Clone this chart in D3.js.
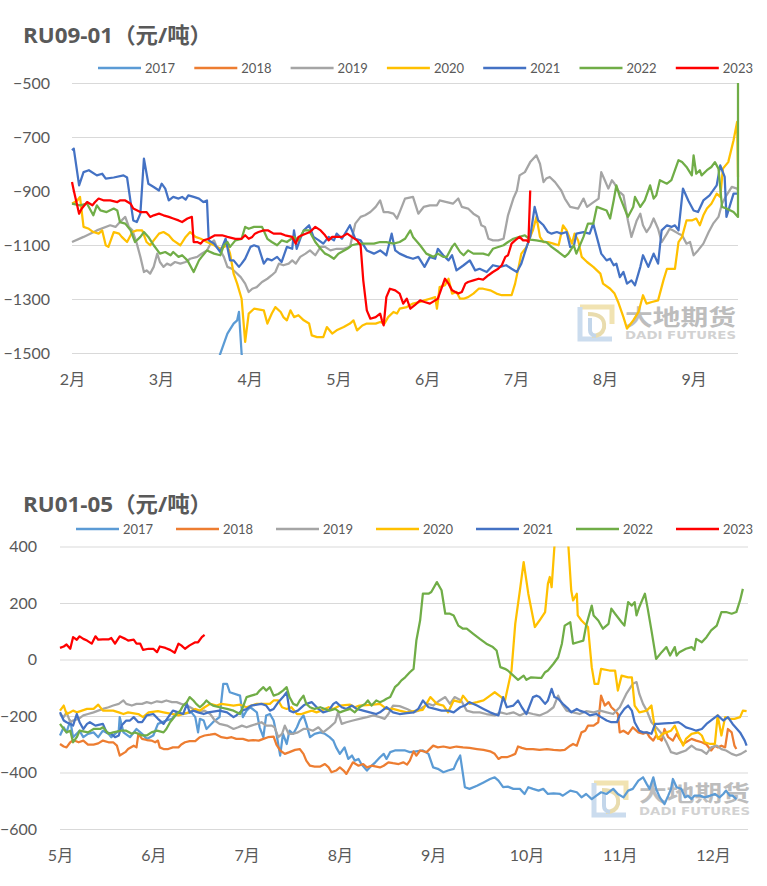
<!DOCTYPE html>
<html>
<head>
<meta charset="utf-8">
<script src="https://cdn.jsdelivr.net/npm/d3@7/dist/d3.min.js"></script>
<style>
body { margin: 0; background: #fff; }
svg { display: block; }
</style>
</head>
<body>
<div id="chart"></div>
<script>
// legend / series names
var years = ["2017", "2018", "2019", "2020", "2021", "2022", "2023"];
var lineColors = ["#5B9BD5", "#ED7D31", "#A5A5A5", "#FFC000", "#4472C4", "#70AD47", "#FF0000"];

// axis ticks (x in months, 2.5 = mid Feb)
var topMonthTicks = [2, 3, 4, 5, 6, 7, 8, 9];
var topValueTicks = [-500, -700, -900, -1100, -1300, -1500];
var bottomMonthTicks = [5, 6, 7, 8, 9, 10, 11, 12];
var bottomValueTicks = [400, 200, 0, -200, -400, -600];

// ---- RU09-01 spread, [month, 元/吨] ----
var top2017 = [[3.60,-1580],[3.67,-1502],[3.75,-1428],[3.82,-1391],[3.86,-1379],[3.88,-1348],[3.91,-1502],[3.95,-1600]];
var top2018 = [];
var top2019 = [[2.00,-1089],[2.13,-1070],[2.28,-1046],[2.43,-1027],[2.49,-1033],[2.54,-1015],[2.60,-996],[2.64,-1033],[2.68,-1046],[2.73,-1095],[2.77,-1144],[2.81,-1200],[2.84,-1194],[2.88,-1206],[2.92,-1181],[2.96,-1132],[2.99,-1163],[3.03,-1181],[3.07,-1169],[3.11,-1175],[3.16,-1163],[3.22,-1169],[3.28,-1163],[3.33,-1151],[3.41,-1144],[3.46,-1132],[3.52,-1120],[3.56,-1095],[3.60,-1083],[3.63,-1107],[3.67,-1120],[3.71,-1144],[3.75,-1181],[3.80,-1188],[3.84,-1200],[3.90,-1219],[3.95,-1243],[3.99,-1274],[4.03,-1262],[4.08,-1256],[4.14,-1237],[4.20,-1225],[4.25,-1212],[4.29,-1200],[4.33,-1169],[4.38,-1175],[4.44,-1169],[4.48,-1157],[4.52,-1169],[4.57,-1144],[4.63,-1132],[4.68,-1120],[4.74,-1138],[4.80,-1107],[4.85,-1107],[4.91,-1120],[4.98,-1114],[5.06,-1114],[5.13,-1107],[5.19,-1021],[5.25,-996],[5.30,-990],[5.36,-978],[5.42,-959],[5.47,-935],[5.51,-978],[5.56,-978],[5.62,-984],[5.66,-1002],[5.69,-978],[5.75,-928],[5.84,-922],[5.90,-984],[5.96,-959],[6.03,-953],[6.11,-953],[6.14,-935],[6.22,-941],[6.29,-947],[6.35,-928],[6.39,-959],[6.46,-965],[6.52,-984],[6.58,-996],[6.61,-1027],[6.65,-1033],[6.69,-1077],[6.74,-1083],[6.80,-1083],[6.86,-1077],[6.91,-990],[6.97,-928],[7.01,-898],[7.04,-842],[7.10,-830],[7.16,-793],[7.23,-768],[7.27,-799],[7.31,-867],[7.34,-854],[7.38,-848],[7.44,-867],[7.51,-898],[7.55,-928],[7.61,-959],[7.70,-965],[7.76,-928],[7.80,-959],[7.85,-947],[7.93,-928],[7.96,-830],[8.00,-860],[8.04,-891],[8.08,-860],[8.11,-873],[8.15,-898],[8.21,-916],[8.26,-1009],[8.30,-1070],[8.36,-1009],[8.40,-984],[8.43,-1027],[8.47,-1052],[8.51,-1033],[8.55,-1002],[8.60,-1040],[8.64,-1089],[8.70,-1058],[8.73,-1040],[8.77,-1046],[8.83,-1058],[8.87,-1064],[8.92,-1095],[8.96,-1089],[9.00,-1138],[9.05,-1120],[9.11,-1095],[9.17,-1052],[9.22,-1021],[9.28,-996],[9.32,-947],[9.37,-916],[9.43,-885],[9.49,-891],[9.50,-898]];
var top2020 = [[2.00,-947],[2.06,-935],[2.09,-922],[2.13,-1033],[2.19,-1040],[2.24,-1052],[2.30,-1058],[2.34,-1046],[2.38,-1101],[2.41,-1107],[2.47,-1052],[2.53,-1058],[2.56,-1070],[2.62,-1089],[2.68,-1052],[2.73,-1046],[2.79,-1046],[2.84,-1089],[2.88,-1101],[2.92,-1083],[2.98,-1058],[3.03,-1052],[3.09,-1064],[3.14,-1083],[3.22,-1101],[3.28,-1070],[3.33,-1052],[3.39,-1070],[3.45,-1077],[3.52,-1089],[3.60,-1101],[3.67,-1114],[3.75,-1101],[3.78,-1132],[3.82,-1206],[3.86,-1243],[3.91,-1299],[3.95,-1459],[3.99,-1354],[4.05,-1336],[4.16,-1342],[4.20,-1391],[4.25,-1354],[4.29,-1330],[4.35,-1348],[4.38,-1367],[4.42,-1379],[4.46,-1342],[4.50,-1367],[4.55,-1360],[4.61,-1379],[4.67,-1391],[4.70,-1435],[4.76,-1441],[4.83,-1441],[4.87,-1404],[4.93,-1428],[4.98,-1416],[5.06,-1404],[5.13,-1391],[5.17,-1379],[5.21,-1416],[5.27,-1398],[5.32,-1391],[5.42,-1391],[5.47,-1385],[5.52,-1391],[5.56,-1367],[5.62,-1348],[5.66,-1354],[5.69,-1336],[5.77,-1330],[5.84,-1317],[5.92,-1311],[5.97,-1305],[6.03,-1299],[6.09,-1293],[6.11,-1336],[6.14,-1256],[6.20,-1249],[6.24,-1225],[6.28,-1280],[6.33,-1274],[6.37,-1299],[6.41,-1299],[6.46,-1293],[6.52,-1280],[6.58,-1262],[6.63,-1262],[6.71,-1268],[6.78,-1280],[6.84,-1286],[6.95,-1286],[6.99,-1243],[7.03,-1181],[7.06,-1132],[7.12,-1107],[7.16,-1070],[7.19,-1046],[7.23,-996],[7.27,-1070],[7.31,-1089],[7.36,-1089],[7.42,-1095],[7.48,-1101],[7.53,-1027],[7.57,-1046],[7.63,-1095],[7.66,-1058],[7.70,-1083],[7.74,-1144],[7.80,-1163],[7.87,-1181],[7.95,-1206],[7.98,-1243],[8.06,-1262],[8.11,-1280],[8.15,-1311],[8.21,-1367],[8.25,-1410],[8.32,-1379],[8.38,-1348],[8.43,-1286],[8.47,-1317],[8.53,-1311],[8.60,-1305],[8.66,-1231],[8.70,-1188],[8.79,-1188],[8.83,-1089],[8.87,-1070],[8.92,-1009],[8.98,-1009],[9.03,-1002],[9.07,-1027],[9.11,-990],[9.15,-965],[9.20,-947],[9.26,-910],[9.30,-922],[9.33,-817],[9.39,-793],[9.45,-712],[9.49,-644],[9.50,-848]];
var top2021 = [[2.00,-749],[2.02,-743],[2.08,-879],[2.13,-830],[2.19,-823],[2.28,-842],[2.34,-836],[2.38,-854],[2.47,-850],[2.58,-842],[2.62,-850],[2.69,-1009],[2.73,-1015],[2.77,-984],[2.81,-780],[2.86,-873],[2.92,-885],[2.98,-898],[3.01,-873],[3.05,-891],[3.09,-935],[3.14,-922],[3.20,-928],[3.24,-922],[3.28,-932],[3.31,-916],[3.37,-922],[3.43,-928],[3.48,-941],[3.52,-935],[3.54,-1083],[3.60,-1095],[3.67,-1126],[3.73,-1077],[3.78,-1157],[3.82,-1157],[3.88,-1181],[3.91,-1169],[3.95,-1151],[4.01,-1107],[4.05,-1101],[4.10,-1107],[4.16,-1169],[4.20,-1151],[4.25,-1157],[4.31,-1144],[4.36,-1163],[4.42,-1107],[4.48,-1114],[4.50,-1046],[4.53,-1114],[4.57,-1077],[4.61,-1046],[4.67,-1027],[4.72,-1070],[4.78,-1083],[4.83,-1095],[4.89,-1070],[4.95,-1083],[4.98,-1058],[5.04,-1077],[5.13,-1027],[5.19,-1077],[5.25,-1083],[5.32,-1120],[5.40,-1132],[5.47,-1120],[5.54,-1138],[5.60,-1058],[5.64,-1120],[5.69,-1132],[5.77,-1144],[5.84,-1151],[5.90,-1144],[5.97,-1181],[6.03,-1144],[6.09,-1151],[6.12,-1114],[6.18,-1138],[6.24,-1157],[6.28,-1138],[6.33,-1194],[6.41,-1175],[6.48,-1157],[6.54,-1194],[6.59,-1188],[6.67,-1200],[6.74,-1175],[6.82,-1181],[6.89,-1175],[6.95,-1188],[7.01,-1200],[7.06,-1169],[7.12,-1107],[7.16,-1070],[7.21,-959],[7.25,-1009],[7.31,-1027],[7.36,-1052],[7.40,-1058],[7.46,-1052],[7.51,-1058],[7.57,-1052],[7.61,-1107],[7.65,-1107],[7.68,-1058],[7.76,-1052],[7.83,-1058],[7.87,-1021],[7.93,-1095],[7.96,-1132],[8.02,-1157],[8.06,-1151],[8.10,-1175],[8.13,-1169],[8.17,-1219],[8.21,-1200],[8.25,-1243],[8.30,-1231],[8.34,-1249],[8.40,-1181],[8.43,-1138],[8.49,-1181],[8.55,-1132],[8.60,-1169],[8.64,-1046],[8.70,-1027],[8.75,-1033],[8.79,-1027],[8.83,-1046],[8.88,-891],[8.94,-935],[9.00,-972],[9.05,-978],[9.11,-935],[9.18,-916],[9.26,-879],[9.30,-805],[9.35,-848],[9.37,-996],[9.45,-910],[9.50,-910]];
var top2022 = [[2.00,-947],[2.09,-953],[2.17,-947],[2.24,-990],[2.28,-953],[2.32,-972],[2.39,-978],[2.47,-965],[2.51,-972],[2.54,-1015],[2.60,-1021],[2.66,-1046],[2.71,-1089],[2.77,-1070],[2.81,-1052],[2.86,-1070],[2.92,-1101],[2.99,-1132],[3.05,-1126],[3.11,-1138],[3.14,-1126],[3.20,-1144],[3.24,-1138],[3.30,-1157],[3.37,-1200],[3.43,-1157],[3.46,-1144],[3.52,-1120],[3.60,-1132],[3.67,-1138],[3.71,-1101],[3.75,-1089],[3.78,-1107],[3.84,-1083],[3.91,-1077],[3.95,-1033],[3.99,-1040],[4.05,-1033],[4.14,-1033],[4.20,-1077],[4.25,-1089],[4.31,-1101],[4.36,-1083],[4.42,-1089],[4.50,-1070],[4.55,-1083],[4.61,-1046],[4.67,-1046],[4.74,-1089],[4.80,-1114],[4.85,-1132],[4.89,-1138],[4.95,-1151],[5.00,-1132],[5.10,-1114],[5.15,-1101],[5.23,-1095],[5.32,-1095],[5.40,-1095],[5.47,-1089],[5.54,-1089],[5.62,-1095],[5.69,-1089],[5.75,-1077],[5.81,-1046],[5.84,-1070],[5.92,-1101],[5.99,-1132],[6.07,-1144],[6.12,-1132],[6.18,-1144],[6.22,-1144],[6.28,-1107],[6.31,-1095],[6.37,-1126],[6.41,-1138],[6.46,-1120],[6.52,-1132],[6.63,-1132],[6.69,-1138],[6.74,-1114],[6.86,-1101],[6.91,-1089],[6.97,-1077],[7.04,-1070],[7.10,-1064],[7.16,-1080],[7.23,-1083],[7.34,-1089],[7.40,-1107],[7.48,-1126],[7.55,-1144],[7.59,-1132],[7.65,-1101],[7.68,-1132],[7.76,-1070],[7.81,-1021],[7.87,-1021],[7.91,-959],[8.02,-972],[8.06,-1002],[8.10,-935],[8.13,-879],[8.17,-922],[8.23,-972],[8.26,-996],[8.32,-959],[8.34,-922],[8.40,-959],[8.45,-935],[8.51,-879],[8.55,-928],[8.58,-916],[8.62,-860],[8.70,-873],[8.75,-860],[8.79,-823],[8.83,-786],[8.87,-793],[8.92,-811],[8.98,-842],[9.00,-768],[9.03,-836],[9.07,-823],[9.09,-842],[9.15,-823],[9.20,-811],[9.24,-793],[9.28,-817],[9.32,-959],[9.37,-965],[9.45,-978],[9.50,-996],[9.50,-500]];
var top2023 = [[2.00,-867],[2.02,-898],[2.08,-984],[2.11,-965],[2.17,-941],[2.23,-953],[2.26,-941],[2.30,-928],[2.36,-935],[2.43,-935],[2.51,-941],[2.54,-935],[2.60,-935],[2.66,-947],[2.69,-965],[2.77,-978],[2.84,-978],[2.88,-996],[2.92,-990],[2.98,-984],[3.03,-990],[3.09,-996],[3.14,-1002],[3.20,-1009],[3.24,-1015],[3.30,-1002],[3.35,-996],[3.37,-1089],[3.41,-1089],[3.45,-1095],[3.48,-1083],[3.54,-1077],[3.61,-1064],[3.69,-1064],[3.75,-1070],[3.84,-1077],[3.91,-1077],[3.95,-1064],[3.99,-1077],[4.03,-1070],[4.06,-1058],[4.10,-1052],[4.16,-1046],[4.21,-1046],[4.27,-1058],[4.35,-1058],[4.40,-1064],[4.48,-1070],[4.52,-1095],[4.55,-1070],[4.59,-1064],[4.68,-1052],[4.74,-1033],[4.80,-1046],[4.85,-1064],[4.89,-1083],[4.93,-1070],[5.04,-1070],[5.10,-1058],[5.15,-1070],[5.21,-1083],[5.25,-1101],[5.28,-1231],[5.32,-1342],[5.36,-1373],[5.42,-1367],[5.47,-1354],[5.49,-1379],[5.51,-1398],[5.54,-1293],[5.58,-1262],[5.64,-1268],[5.69,-1280],[5.73,-1317],[5.77,-1299],[5.81,-1336],[5.86,-1323],[5.92,-1305],[5.97,-1311],[6.03,-1317],[6.09,-1305],[6.12,-1299],[6.16,-1262],[6.20,-1225],[6.24,-1243],[6.28,-1268],[6.35,-1280],[6.39,-1274],[6.43,-1243],[6.46,-1237],[6.52,-1231],[6.58,-1225],[6.63,-1228],[6.69,-1212],[6.74,-1200],[6.80,-1188],[6.84,-1175],[6.88,-1144],[6.91,-1138],[6.95,-1095],[6.99,-1083],[7.04,-1070],[7.08,-1083],[7.12,-1083],[7.14,-1089],[7.16,-898]];

// ---- RU01-05 spread, [month, 元/吨] ----
var bottom2017 = [[5.00,-269],[5.04,-240],[5.07,-258],[5.11,-216],[5.14,-275],[5.21,-252],[5.25,-275],[5.30,-263],[5.36,-258],[5.41,-275],[5.46,-252],[5.52,-263],[5.55,-275],[5.59,-263],[5.63,-252],[5.64,-204],[5.68,-258],[5.75,-275],[5.82,-246],[5.88,-263],[5.93,-281],[6.00,-269],[6.05,-228],[6.14,-216],[6.20,-210],[6.25,-187],[6.30,-193],[6.41,-187],[6.45,-204],[6.48,-258],[6.50,-210],[6.54,-216],[6.57,-246],[6.64,-222],[6.71,-204],[6.75,-86],[6.79,-86],[6.82,-116],[6.93,-128],[6.96,-204],[7.00,-181],[7.04,-169],[7.11,-187],[7.14,-240],[7.18,-275],[7.21,-198],[7.25,-193],[7.29,-216],[7.32,-263],[7.36,-340],[7.39,-263],[7.43,-299],[7.46,-252],[7.50,-263],[7.54,-240],[7.57,-216],[7.61,-198],[7.64,-228],[7.68,-275],[7.73,-263],[7.79,-258],[7.84,-263],[7.89,-275],[7.93,-287],[7.96,-311],[8.00,-334],[8.05,-311],[8.09,-352],[8.13,-340],[8.16,-358],[8.20,-352],[8.23,-370],[8.29,-393],[8.32,-382],[8.38,-364],[8.43,-346],[8.47,-334],[8.50,-352],[8.54,-328],[8.59,-322],[8.70,-322],[8.75,-328],[8.82,-325],[8.89,-322],[8.95,-334],[9.00,-382],[9.05,-387],[9.11,-399],[9.16,-393],[9.22,-387],[9.25,-364],[9.29,-340],[9.34,-452],[9.39,-458],[9.47,-447],[9.54,-435],[9.61,-423],[9.66,-417],[9.70,-429],[9.75,-452],[9.80,-450],[9.86,-458],[9.93,-458],[9.98,-476],[10.02,-452],[10.07,-458],[10.13,-464],[10.18,-458],[10.23,-476],[10.29,-474],[10.36,-476],[10.39,-482],[10.47,-464],[10.54,-470],[10.59,-488],[10.64,-476],[10.70,-494],[10.75,-482],[10.80,-470],[10.86,-476],[10.93,-458],[10.98,-476],[11.04,-488],[11.09,-464],[11.14,-458],[11.20,-429],[11.25,-417],[11.29,-441],[11.32,-458],[11.36,-417],[11.39,-458],[11.43,-488],[11.48,-512],[11.52,-482],[11.55,-458],[11.57,-423],[11.61,-452],[11.66,-458],[11.70,-488],[11.73,-482],[11.77,-494],[11.80,-482],[11.86,-482],[11.91,-488],[11.97,-482],[12.02,-476],[12.07,-488],[12.11,-476],[12.14,-464],[12.18,-482],[12.21,-482],[12.25,-494]];
var bottom2018 = [[5.00,-299],[5.04,-308],[5.07,-311],[5.11,-293],[5.14,-285],[5.20,-293],[5.25,-287],[5.30,-301],[5.36,-301],[5.41,-297],[5.46,-287],[5.52,-293],[5.57,-293],[5.61,-305],[5.64,-340],[5.70,-328],[5.73,-317],[5.79,-305],[5.82,-311],[5.84,-263],[5.88,-281],[5.93,-285],[5.98,-287],[6.02,-293],[6.05,-287],[6.07,-311],[6.11,-317],[6.16,-317],[6.21,-311],[6.27,-311],[6.30,-301],[6.34,-293],[6.39,-289],[6.45,-289],[6.50,-275],[6.55,-269],[6.61,-266],[6.66,-263],[6.73,-275],[6.79,-278],[6.84,-275],[6.89,-281],[6.96,-281],[7.02,-287],[7.07,-285],[7.13,-287],[7.18,-281],[7.23,-275],[7.29,-273],[7.32,-301],[7.36,-322],[7.41,-334],[7.46,-328],[7.52,-320],[7.57,-317],[7.61,-334],[7.64,-358],[7.68,-376],[7.73,-379],[7.79,-379],[7.84,-370],[7.88,-382],[7.91,-399],[7.96,-393],[8.00,-382],[8.04,-393],[8.07,-405],[8.11,-382],[8.14,-364],[8.20,-376],[8.25,-370],[8.29,-382],[8.34,-376],[8.43,-382],[8.47,-376],[8.52,-364],[8.57,-367],[8.63,-370],[8.68,-364],[8.72,-372],[8.75,-358],[8.79,-325],[8.82,-340],[8.86,-322],[8.93,-328],[9.00,-305],[9.05,-311],[9.11,-308],[9.18,-313],[9.25,-308],[9.32,-311],[9.39,-313],[9.47,-317],[9.54,-320],[9.61,-325],[9.66,-334],[9.70,-352],[9.73,-346],[9.79,-346],[9.84,-340],[9.88,-334],[9.91,-308],[9.95,-313],[10.00,-317],[10.07,-317],[10.14,-320],[10.22,-317],[10.29,-320],[10.36,-322],[10.41,-320],[10.47,-305],[10.50,-299],[10.54,-305],[10.59,-258],[10.63,-252],[10.66,-234],[10.72,-234],[10.77,-222],[10.80,-128],[10.84,-163],[10.88,-151],[10.91,-169],[10.95,-181],[10.98,-193],[11.00,-258],[11.04,-252],[11.09,-263],[11.14,-240],[11.20,-258],[11.25,-263],[11.29,-258],[11.32,-275],[11.36,-287],[11.39,-269],[11.45,-287],[11.48,-246],[11.52,-275],[11.57,-287],[11.61,-263],[11.64,-281],[11.68,-299],[11.71,-293],[11.77,-281],[11.82,-287],[11.88,-293],[11.93,-301],[11.98,-322],[12.02,-305],[12.05,-311],[12.09,-305],[12.13,-311],[12.16,-246],[12.20,-258],[12.23,-305],[12.25,-317]];
var bottom2019 = [[5.00,-193],[5.04,-204],[5.07,-187],[5.11,-222],[5.14,-216],[5.20,-210],[5.25,-198],[5.30,-193],[5.36,-187],[5.41,-181],[5.46,-175],[5.52,-169],[5.57,-163],[5.63,-157],[5.68,-145],[5.71,-157],[5.77,-163],[5.82,-157],[5.88,-157],[5.93,-151],[5.98,-155],[6.04,-148],[6.09,-151],[6.14,-145],[6.20,-151],[6.25,-151],[6.30,-157],[6.36,-163],[6.43,-175],[6.50,-187],[6.55,-181],[6.61,-193],[6.66,-216],[6.71,-228],[6.79,-234],[6.86,-246],[6.91,-240],[6.95,-234],[7.00,-240],[7.05,-234],[7.11,-228],[7.16,-222],[7.21,-234],[7.27,-234],[7.30,-240],[7.34,-275],[7.38,-263],[7.41,-234],[7.45,-263],[7.50,-263],[7.55,-258],[7.61,-246],[7.66,-246],[7.71,-252],[7.77,-240],[7.82,-258],[7.89,-240],[7.95,-222],[7.98,-187],[8.02,-228],[8.07,-222],[8.14,-216],[8.21,-210],[8.29,-204],[8.36,-198],[8.43,-204],[8.48,-210],[8.52,-193],[8.57,-163],[8.64,-165],[8.72,-175],[8.79,-187],[8.84,-181],[8.89,-169],[8.95,-157],[9.00,-163],[9.07,-145],[9.13,-133],[9.18,-157],[9.23,-133],[9.30,-145],[9.36,-181],[9.43,-187],[9.50,-187],[9.57,-193],[9.66,-198],[9.72,-187],[9.79,-193],[9.86,-187],[9.93,-198],[10.00,-187],[10.07,-193],[10.14,-198],[10.22,-187],[10.29,-169],[10.34,-128],[10.38,-157],[10.43,-181],[10.50,-187],[10.57,-193],[10.64,-183],[10.72,-187],[10.79,-181],[10.86,-187],[10.93,-193],[11.00,-169],[11.07,-122],[11.14,-86],[11.18,-80],[11.21,-122],[11.25,-157],[11.29,-181],[11.34,-222],[11.39,-240],[11.45,-263],[11.50,-293],[11.55,-328],[11.61,-334],[11.66,-328],[11.71,-322],[11.77,-305],[11.82,-317],[11.88,-322],[11.93,-334],[11.98,-311],[12.04,-305],[12.09,-317],[12.14,-322],[12.20,-334],[12.25,-340],[12.30,-334],[12.36,-322]];
var bottom2020 = [[5.00,-181],[5.04,-163],[5.07,-193],[5.11,-187],[5.14,-181],[5.18,-187],[5.29,-175],[5.36,-175],[5.41,-160],[5.46,-181],[5.57,-181],[5.63,-187],[5.68,-193],[5.73,-187],[5.84,-193],[5.89,-204],[5.95,-187],[6.05,-183],[6.11,-187],[6.21,-193],[6.27,-198],[6.32,-193],[6.38,-187],[6.45,-175],[6.50,-181],[6.55,-169],[6.61,-157],[6.68,-163],[6.73,-157],[6.86,-163],[6.93,-160],[7.00,-169],[7.05,-163],[7.11,-157],[7.25,-157],[7.29,-145],[7.34,-145],[7.38,-169],[7.43,-175],[7.48,-169],[7.54,-193],[7.59,-193],[7.64,-187],[7.70,-181],[7.75,-187],[7.80,-181],[7.88,-169],[7.93,-175],[8.00,-163],[8.11,-160],[8.16,-169],[8.21,-163],[8.36,-160],[8.43,-157],[8.50,-175],[8.57,-175],[8.64,-181],[8.72,-187],[8.79,-183],[8.89,-178],[8.97,-133],[9.04,-157],[9.11,-163],[9.16,-187],[9.22,-145],[9.29,-151],[9.32,-128],[9.39,-157],[9.47,-151],[9.54,-145],[9.61,-128],[9.66,-116],[9.73,-133],[9.77,-145],[9.84,-39],[9.88,126],[9.93,245],[9.97,345],[10.02,233],[10.09,115],[10.14,138],[10.20,168],[10.23,268],[10.25,292],[10.27,256],[10.30,400],[10.34,518],[10.38,541],[10.41,494],[10.45,400],[10.48,245],[10.50,209],[10.54,233],[10.55,156],[10.59,138],[10.66,115],[10.70,-27],[10.73,-86],[10.77,-86],[10.80,-33],[10.89,-39],[10.95,-39],[10.98,-110],[11.02,-57],[11.09,-63],[11.13,-63],[11.16,-163],[11.21,-187],[11.29,-181],[11.34,-163],[11.38,-252],[11.41,-281],[11.46,-263],[11.50,-258],[11.55,-252],[11.59,-234],[11.64,-275],[11.68,-305],[11.71,-281],[11.77,-263],[11.84,-258],[11.88,-269],[11.91,-293],[11.97,-299],[12.02,-299],[12.05,-198],[12.09,-269],[12.13,-204],[12.18,-210],[12.23,-210],[12.29,-204],[12.32,-181],[12.36,-183]];
var bottom2021 = [[5.00,-187],[5.04,-216],[5.07,-222],[5.11,-228],[5.14,-234],[5.18,-193],[5.21,-222],[5.25,-246],[5.29,-228],[5.32,-222],[5.38,-234],[5.46,-228],[5.50,-258],[5.55,-263],[5.59,-275],[5.63,-269],[5.66,-234],[5.71,-216],[5.75,-216],[5.79,-204],[5.84,-222],[5.88,-222],[5.93,-198],[6.00,-193],[6.05,-210],[6.11,-228],[6.16,-204],[6.21,-181],[6.27,-187],[6.32,-193],[6.36,-157],[6.39,-187],[6.43,-181],[6.48,-187],[6.54,-193],[6.59,-187],[6.71,-181],[6.79,-187],[6.86,-204],[6.89,-198],[6.95,-181],[7.00,-175],[7.05,-163],[7.16,-157],[7.21,-163],[7.25,-181],[7.29,-175],[7.34,-151],[7.39,-133],[7.43,-116],[7.46,-181],[7.50,-187],[7.55,-181],[7.61,-163],[7.64,-157],[7.70,-151],[7.77,-175],[7.82,-187],[7.88,-181],[7.93,-157],[7.96,-151],[8.02,-169],[8.07,-175],[8.13,-163],[8.18,-175],[8.25,-181],[8.32,-187],[8.39,-193],[8.43,-187],[8.50,-169],[8.57,-187],[8.64,-193],[8.72,-190],[8.79,-187],[8.84,-175],[8.89,-145],[8.95,-169],[9.02,-175],[9.09,-181],[9.16,-181],[9.22,-187],[9.29,-169],[9.34,-163],[9.39,-151],[9.47,-163],[9.54,-175],[9.61,-187],[9.70,-198],[9.75,-133],[9.79,-169],[9.86,-163],[9.91,-145],[9.95,-169],[10.00,-193],[10.07,-133],[10.11,-128],[10.14,-133],[10.20,-157],[10.23,-145],[10.27,-104],[10.30,-133],[10.34,-139],[10.39,-157],[10.45,-175],[10.48,-187],[10.54,-175],[10.57,-181],[10.63,-187],[10.68,-198],[10.75,-193],[10.80,-204],[10.86,-216],[10.91,-222],[10.97,-222],[11.00,-198],[11.05,-175],[11.09,-163],[11.13,-181],[11.16,-222],[11.21,-252],[11.25,-258],[11.29,-258],[11.34,-263],[11.38,-228],[11.41,-228],[11.48,-226],[11.57,-224],[11.63,-222],[11.66,-228],[11.71,-240],[11.77,-246],[11.82,-252],[11.88,-246],[11.93,-228],[12.00,-210],[12.05,-198],[12.11,-216],[12.16,-204],[12.21,-228],[12.29,-258],[12.34,-287],[12.36,-305]];
var bottom2022 = [[5.00,-228],[5.04,-246],[5.07,-258],[5.11,-252],[5.14,-293],[5.18,-275],[5.21,-252],[5.30,-258],[5.36,-246],[5.43,-246],[5.46,-240],[5.52,-263],[5.57,-258],[5.66,-252],[5.71,-252],[5.77,-263],[5.80,-258],[5.84,-263],[5.88,-269],[5.93,-269],[5.98,-258],[6.04,-252],[6.11,-258],[6.14,-246],[6.18,-222],[6.21,-210],[6.25,-193],[6.29,-181],[6.32,-163],[6.36,-151],[6.39,-133],[6.43,-145],[6.46,-157],[6.50,-169],[6.54,-157],[6.57,-145],[6.61,-157],[6.64,-163],[6.71,-169],[6.79,-175],[6.86,-181],[6.93,-193],[6.96,-169],[7.00,-133],[7.05,-128],[7.11,-122],[7.14,-110],[7.18,-98],[7.21,-110],[7.25,-98],[7.29,-128],[7.34,-122],[7.39,-110],[7.43,-98],[7.46,-133],[7.50,-157],[7.54,-163],[7.57,-145],[7.61,-128],[7.64,-157],[7.68,-169],[7.73,-175],[7.79,-169],[7.84,-175],[7.89,-181],[7.95,-175],[8.00,-187],[8.05,-181],[8.11,-175],[8.16,-187],[8.21,-169],[8.27,-157],[8.30,-145],[8.34,-163],[8.39,-145],[8.43,-151],[8.47,-145],[8.50,-139],[8.54,-133],[8.59,-98],[8.63,-86],[8.66,-74],[8.70,-63],[8.75,-45],[8.79,-33],[8.82,67],[8.86,138],[8.89,233],[8.95,233],[8.98,239],[9.04,274],[9.09,245],[9.13,162],[9.18,162],[9.22,156],[9.27,120],[9.32,109],[9.36,109],[9.43,91],[9.50,73],[9.57,56],[9.64,44],[9.68,32],[9.72,-27],[9.77,-33],[9.80,-39],[9.86,-57],[9.91,-72],[9.97,-57],[10.00,-72],[10.05,-63],[10.13,-65],[10.16,-65],[10.20,-45],[10.23,-39],[10.29,-15],[10.34,8],[10.38,56],[10.41,120],[10.47,132],[10.50,56],[10.55,61],[10.61,67],[10.64,120],[10.70,191],[10.72,156],[10.77,138],[10.82,109],[10.88,126],[10.91,180],[10.95,162],[11.02,132],[11.05,120],[11.09,203],[11.13,191],[11.16,203],[11.18,156],[11.21,186],[11.27,233],[11.30,180],[11.34,103],[11.39,2],[11.45,26],[11.50,44],[11.54,14],[11.59,44],[11.61,14],[11.64,26],[11.71,38],[11.77,44],[11.80,34],[11.82,73],[11.88,61],[11.93,79],[11.98,103],[12.04,120],[12.09,168],[12.14,168],[12.20,162],[12.25,168],[12.29,209],[12.32,250]];
var bottom2023 = [[5.00,41],[5.04,46],[5.07,53],[5.11,38],[5.14,79],[5.18,70],[5.21,82],[5.25,73],[5.29,67],[5.34,56],[5.38,82],[5.41,70],[5.46,71],[5.52,71],[5.55,76],[5.59,56],[5.64,82],[5.70,73],[5.73,67],[5.79,70],[5.82,56],[5.86,56],[5.89,34],[5.95,38],[6.00,38],[6.04,26],[6.07,46],[6.13,41],[6.18,34],[6.23,24],[6.27,56],[6.30,50],[6.34,38],[6.39,50],[6.45,61],[6.48,61],[6.52,79],[6.55,87]];

var topSeries = [top2017, top2018, top2019, top2020, top2021, top2022, top2023];
var bottomSeries = [bottom2017, bottom2018, bottom2019, bottom2020, bottom2021, bottom2022, bottom2023];

var textColor = "#595959";
var fontLatin = "Lato, 'Noto Sans CJK SC', sans-serif";

var svg = d3.select("#chart")
    .append("svg")
    .attr("width", 767)
    .attr("height", 886);

function drawPanel(cfg) {
    var x = d3.scaleLinear().domain(cfg.xDomain).range([cfg.left, cfg.right]);
    var y = d3.scaleLinear().domain(cfg.yDomain).range([cfg.bottom, cfg.top]);
    var g = svg.append("g");

    // title (stretched to the width it has in the source picture)
    g.append("text")
        .attr("x", cfg.titleX)
        .attr("y", cfg.titleY)
        .attr("textLength", 189)
        .attr("lengthAdjust", "spacingAndGlyphs")
        .attr("fill", textColor)
        .style("font-family", "'Open Sans', 'Noto Sans CJK SC', sans-serif")
        .style("font-weight", "bold")
        .style("font-size", "21.5px")
        .text(cfg.title);

    // legend
    var legend = g.selectAll(".legend-item")
        .data(years)
        .enter()
        .append("g")
        .attr("class", "legend-item")
        .attr("transform", function (d, i) {
            return "translate(" + (cfg.legendX + i * cfg.legendStep) + "," + cfg.legendY + ")";
        });
    legend.append("line")
        .attr("x1", 0).attr("x2", 43)
        .attr("stroke", function (d, i) { return lineColors[i]; })
        .attr("stroke-width", 2.5);
    legend.append("text")
        .attr("x", 47)
        .attr("dy", "0.35em")
        .attr("fill", textColor)
        .style("font-family", fontLatin)
        .style("font-size", "13px")
        .text(function (d) { return d; });

    // y axis with gridlines
    var yAxis = d3.axisLeft(y)
        .tickValues(cfg.yTicks)
        .tickSize(-(cfg.right - cfg.left))
        .tickPadding(cfg.labelGap)
        .tickFormat(d3.format("d"));
    var yg = g.append("g")
        .attr("transform", "translate(" + cfg.left + ",0)")
        .call(yAxis);
    yg.select(".domain").remove();
    yg.selectAll(".tick line").attr("stroke", "#d9d9d9").attr("stroke-width", 1);
    yg.selectAll(".tick text")
        .attr("fill", textColor)
        .style("font-family", fontLatin)
        .style("font-size", "16px");

    // x axis (month labels only)
    var xAxis = d3.axisBottom(x)
        .tickValues(cfg.xTicks)
        .tickSize(0)
        .tickPadding(21)
        .tickFormat(function (d) { return d + "月"; });
    var xg = g.append("g")
        .attr("transform", "translate(0," + cfg.bottom + ")")
        .call(xAxis);
    xg.select(".domain").remove();
    xg.selectAll(".tick text")
        .attr("fill", textColor)
        .style("font-family", fontLatin)
        .style("font-size", "16px");

    // watermark
    drawMark(g, cfg.markX, cfg.markY);

    // lines
    g.append("clipPath")
        .attr("id", cfg.id + "-clip")
        .append("rect")
        .attr("x", cfg.left - 2)
        .attr("y", cfg.top)
        .attr("width", cfg.right - cfg.left + 4)
        .attr("height", cfg.bottom - cfg.top + 2);

    var line = d3.line()
        .x(function (d) { return x(d[0]); })
        .y(function (d) { return y(d[1]); });

    g.append("g")
        .attr("clip-path", "url(#" + cfg.id + "-clip)")
        .selectAll("path")
        .data(cfg.series.filter(function (s) { return s.length > 0; }).map(function (s) {
            return { pts: s, color: lineColors[cfg.series.indexOf(s)] };
        }))
        .enter()
        .append("path")
        .attr("d", function (d) { return line(d.pts); })
        .attr("fill", "none")
        .attr("stroke", function (d) { return d.color; })
        .attr("stroke-width", 2.25)
        .attr("stroke-linejoin", "round");
}

// "大地期货" logo watermark, bottom right of each panel
function drawMark(g, mx, my) {
    var m = g.append("g").attr("transform", "translate(" + mx + "," + my + ")");
    m.append("path")
        .attr("d", "M4,3 L36,3 L36,20")
        .attr("fill", "none")
        .attr("stroke", "#f1e3b2").attr("stroke-width", 5);
    m.append("path")
        .attr("d", "M4,3 L4,35 L36,35")
        .attr("fill", "none")
        .attr("stroke", "#cbdcee").attr("stroke-width", 5);
    m.append("path")
        .attr("d", "M12,10 Q30,10 28,24 Q26,32 16,32")
        .attr("fill", "none")
        .attr("stroke", "#e9dcae").attr("stroke-width", 4);
    m.append("path")
        .attr("d", "M14,14 L14,26 Q14,31 20,32")
        .attr("fill", "none")
        .attr("stroke", "#c3d6ea").attr("stroke-width", 4);
    m.append("text")
        .attr("x", 49).attr("y", 21)
        .attr("textLength", 111)
        .attr("lengthAdjust", "spacingAndGlyphs")
        .attr("fill", "#bdbdbd")
        .style("font-family", "'Noto Sans CJK SC', sans-serif")
        .style("font-weight", "bold")
        .style("font-size", "22px")
        .text("大地期货");
    m.append("text")
        .attr("x", 49).attr("y", 35)
        .attr("textLength", 111)
        .attr("lengthAdjust", "spacingAndGlyphs")
        .attr("fill", "#d2d2d2")
        .style("font-family", "'DejaVu Sans', sans-serif")
        .style("font-weight", "bold")
        .style("font-size", "10px")
        .text("DADI FUTURES");
}

drawPanel({
    id: "ru0901", title: "RU09-01（元/吨）", titleX: 23, titleY: 43,
    legendX: 98, legendY: 68, legendStep: 96.3,
    left: 72, right: 738, top: 83, bottom: 353,
    xDomain: [2, 9.5], yDomain: [-1500, -500],
    xTicks: topMonthTicks, yTicks: topValueTicks, labelGap: 22,
    markX: 576, markY: 304,
    series: topSeries
});

drawPanel({
    id: "ru0105", title: "RU01-05（元/吨）", titleX: 23, titleY: 512,
    legendX: 76, legendY: 529, legendStep: 100,
    left: 60, right: 748, top: 546.5, bottom: 829,
    xDomain: [5, 12.375], yDomain: [-600, 400],
    xTicks: bottomMonthTicks, yTicks: bottomValueTicks, labelGap: 23,
    markX: 590, markY: 780,
    series: bottomSeries
});
</script>
</body>
</html>
